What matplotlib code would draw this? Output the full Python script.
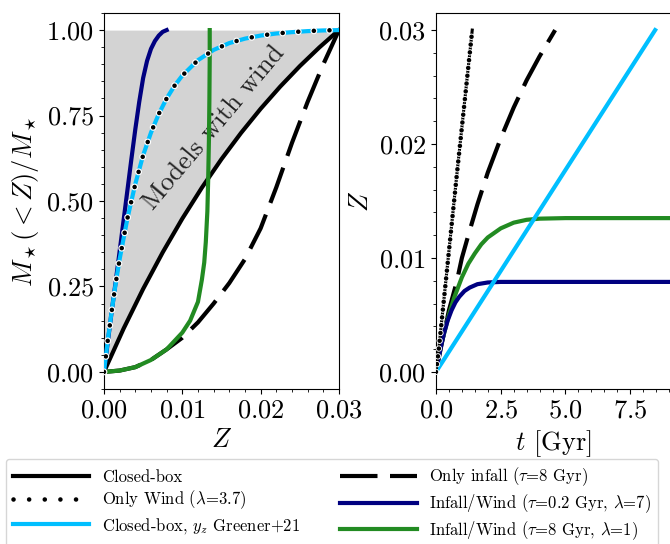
import matplotlib
matplotlib.use("Agg")
import matplotlib.pyplot as plt
import matplotlib.patheffects as pe
from matplotlib.ticker import MultipleLocator, AutoMinorLocator

plt.rcParams['font.family'] = 'serif'
plt.rcParams['font.serif'] = ['cmr10']
plt.rcParams['mathtext.fontset'] = 'cm'
plt.rcParams['axes.formatter.use_mathtext'] = True

# ---- left panel: cumulative metallicity distributions ----
Z_cb = [0, 0.0025, 0.005, 0.0075, 0.01, 0.0125, 0.015, 0.0175, 0.02, 0.0225, 0.025, 0.0275, 0.03]
frac_cb = [0, 0.1265, 0.2429, 0.3499, 0.4485, 0.5391, 0.6225, 0.6992, 0.7698, 0.8347, 0.8945, 0.9494, 1.0]

Z_wind = [0, 0.0005, 0.001, 0.0015, 0.002, 0.003, 0.004, 0.005, 0.006, 0.007, 0.008, 0.009,
          0.010, 0.012, 0.014, 0.016, 0.018, 0.020, 0.022, 0.024, 0.026, 0.028, 0.030]
frac_wind = [0, 0.095, 0.18, 0.26, 0.33, 0.45, 0.55, 0.634, 0.70, 0.755, 0.80, 0.837,
             0.867, 0.912, 0.942, 0.962, 0.975, 0.984, 0.990, 0.994, 0.997, 0.999, 1.0]
Z_greener = Z_wind
frac_greener = frac_wind

Z_infall = [0, 0.002, 0.004, 0.006, 0.008, 0.010, 0.012, 0.014, 0.016, 0.018, 0.020, 0.022,
            0.024, 0.026, 0.028, 0.030]
frac_infall = [0, 0.004, 0.014, 0.035, 0.066, 0.10, 0.145, 0.20, 0.26, 0.33, 0.42, 0.54,
               0.67, 0.79, 0.90, 1.0]

Z_iw02 = [0, 0.0005, 0.001, 0.0015, 0.002, 0.0025, 0.003, 0.0035, 0.004, 0.0045, 0.005,
          0.0055, 0.006, 0.0065, 0.007, 0.0075, 0.008]
frac_iw02 = [0, 0.09, 0.18, 0.265, 0.353, 0.443, 0.533, 0.623, 0.71, 0.79, 0.86,
             0.91, 0.945, 0.968, 0.984, 0.995, 1.0]

Z_iw8 = [0, 0.002, 0.004, 0.006, 0.008, 0.010, 0.011, 0.012, 0.0125, 0.0128, 0.013, 0.0132,
         0.0133, 0.0134, 0.01346, 0.0135, 0.0135]
frac_iw8 = [0, 0.004, 0.014, 0.035, 0.066, 0.115, 0.15, 0.205, 0.27, 0.32, 0.38, 0.47,
            0.56, 0.68, 0.80, 0.92, 1.0]

# ---- right panel: Z(t) ----
t_wind = [0, 0.1, 0.4, 0.8, 1.1, 1.4]
Zt_wind = [0, 0.0018, 0.0084, 0.0172, 0.0236, 0.0300]

t_infall = [0, 0.25, 0.5, 0.8, 1.0, 1.3, 1.6, 2.0, 2.5, 3.0, 3.5, 4.0, 4.6]
Zt_infall = [0, 0.0028, 0.0054, 0.0079, 0.0100, 0.0124, 0.0147, 0.0175, 0.0205, 0.0232,
             0.0256, 0.0277, 0.0300]

t_greener = [0, 8.46]
Zt_greener = [0, 0.0300]

t_iw8 = [0, 0.1, 0.2, 0.35, 0.5, 0.7, 0.85, 1.0, 1.25, 1.5, 1.75, 2.0, 2.5, 3.0, 3.5,
         4.0, 5.0, 7.0, 13.8]
Zt_iw8 = [0, 0.0013, 0.0024, 0.0037, 0.0050, 0.0065, 0.0074, 0.0083, 0.0095, 0.0104,
          0.0112, 0.0118, 0.0126, 0.0131, 0.01335, 0.01345, 0.0135, 0.0135, 0.0135]

t_iw02 = [0, 0.1, 0.2, 0.3, 0.45, 0.6, 0.75, 0.9, 1.1, 1.3, 1.6, 2.0, 2.5, 3.0, 13.8]
Zt_iw02 = [0, 0.0012, 0.0023, 0.0033, 0.0045, 0.0054, 0.0061, 0.0066, 0.0071, 0.0074,
           0.0077, 0.00785, 0.0079, 0.0079, 0.0079]

labels = ["Closed-box", r"Only Wind ($\lambda$=3.7)", r"Closed-box, $y_z$ Greener+21",
          r"Only infall ($\tau$=8 Gyr)", r"Infall/Wind ($\tau$=0.2 Gyr, $\lambda$=7)",
          r"Infall/Wind ($\tau$=8 Gyr, $\lambda$=1)"]

lw = 3
dots = dict(color='k', lw=3.3, ls=(0, (0.01, 3.4)), dash_capstyle='round',
            path_effects=[pe.Stroke(linewidth=5, foreground='white'), pe.Normal()])
dashes = (0, (9, 3))

fig = plt.figure(figsize=(6.7, 5.44), dpi=100)
ax1 = fig.add_axes([0.1552, 0.2849, 0.3507, 0.6912])
ax2 = fig.add_axes([0.6507, 0.2849, 0.3507, 0.6912])

ax1.fill_between(Z_cb, frac_cb, 1, color='lightgray', lw=0, zorder=0)
h_cb, = ax1.plot(Z_cb, frac_cb, color='k', lw=lw, zorder=2)
h_in, = ax1.plot(Z_infall, frac_infall, color='k', lw=lw, ls=dashes, zorder=2)
h_b, = ax1.plot(Z_iw02, frac_iw02, color='navy', lw=lw, zorder=3)
h_c, = ax1.plot(Z_greener, frac_greener, color='deepskyblue', lw=lw, zorder=4)
h_g, = ax1.plot(Z_iw8, frac_iw8, color='forestgreen', lw=lw, zorder=5)
h_w, = ax1.plot(Z_wind, frac_wind, zorder=6, **dots)
ax1.text(0.0140, 0.715, "Models with wind", rotation=50, ha='center', va='center',
         fontsize=19, color='#222222')

ax1.set_xlim(0, 0.03)
ax1.set_ylim(-0.05, 1.05)
ax1.xaxis.set_major_locator(MultipleLocator(0.01))
ax1.yaxis.set_major_locator(MultipleLocator(0.25))
ax1.set_xlabel("$Z$", fontsize=19)
ax1.set_ylabel(r"$M_\star(<Z)/M_\star$", fontsize=19)

ax2.plot(t_wind, Zt_wind, color='k', lw=2.2, zorder=5)
ax2.plot(t_wind, Zt_wind, zorder=6, color='k', lw=3.3, ls=(0, (0.01, 1.7)),
         dash_capstyle='round',
         path_effects=[pe.Stroke(linewidth=4.6, foreground='white'), pe.Normal()])
ax2.plot(t_infall, Zt_infall, color='k', lw=lw, ls=dashes, zorder=2)
ax2.plot(t_iw8, Zt_iw8, color='forestgreen', lw=lw, zorder=3)
ax2.plot(t_iw02, Zt_iw02, color='navy', lw=lw, zorder=3)
ax2.plot(t_greener, Zt_greener, color='deepskyblue', lw=lw, zorder=4)

ax2.set_xlim(0, 9.07)
ax2.set_ylim(-0.0015, 0.0315)
ax2.xaxis.set_major_locator(MultipleLocator(2.5))
ax2.yaxis.set_major_locator(MultipleLocator(0.01))
ax2.set_xlabel("$t$ [Gyr]", fontsize=19)
ax2.set_ylabel("$Z$", fontsize=19)

for ax in (ax1, ax2):
    ax.xaxis.set_minor_locator(AutoMinorLocator())
    ax.yaxis.set_minor_locator(AutoMinorLocator())
    ax.tick_params(which='major', labelsize=19)

fig.legend([h_cb, h_w, h_c, h_in, h_b, h_g], labels, ncol=2, loc='upper left',
           bbox_to_anchor=(0.009, 1 - 459 / 544), borderaxespad=0, fontsize=12,
           handlelength=4.6, handletextpad=0.75, columnspacing=2.4, labelspacing=0.25)

fig.savefig("out.png", dpi=100)
